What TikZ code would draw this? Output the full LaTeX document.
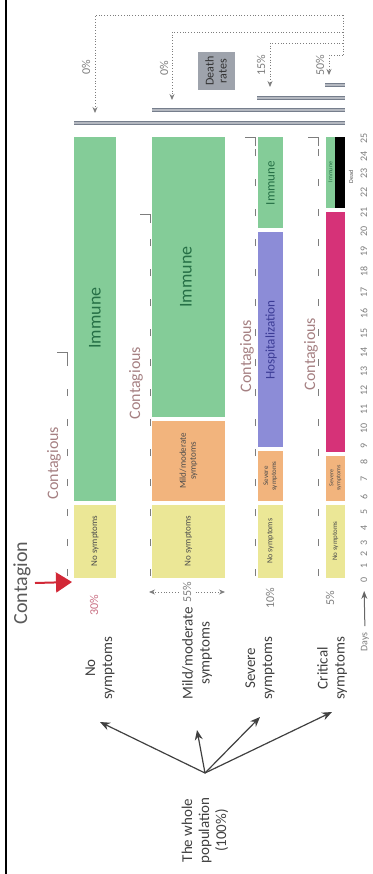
\documentclass[tikz,border=0pt]{standalone}
\usepackage{fontspec}
\setmainfont{Carlito}
\usetikzlibrary{arrows.meta}
\definecolor{noyellow}{RGB}{235,231,150}
\definecolor{immgreen}{RGB}{132,204,152}
\definecolor{mildorange}{RGB}{242,180,125}
\definecolor{hospblue}{RGB}{140,140,215}
\definecolor{icupink}{RGB}{214,50,120}
\definecolor{rategrey}{RGB}{118,126,140}
\definecolor{boxgrey}{RGB}{158,163,172}
\definecolor{softgrey}{RGB}{125,125,125}
\definecolor{contagrose}{RGB}{165,128,130}
\definecolor{immtext}{RGB}{38,112,70}
\definecolor{hosptext}{RGB}{60,60,150}
\definecolor{pinkpct}{RGB}{200,110,130}
\definecolor{arrowred}{RGB}{210,40,55}
\begin{document}
\begin{tikzpicture}[x=0.5pt,y=-0.5pt,
  up/.style={rotate=90,inner sep=0pt,align=center},
  tiny/.style={up,font=\fontsize{4.5}{5}\selectfont,text=black!70},
  grouplbl/.style={up,font=\fontsize{7.5}{8.5}\selectfont,text=black!75},
  contag/.style={up,font=\fontsize{8}{9}\selectfont,text=contagrose},
  immlbl/.style={up,font=\fontsize{9}{10}\selectfont,text=immtext},
  pct/.style={up,font=\fontsize{6}{7}\selectfont,text=softgrey},
  daynum/.style={up,font=\fontsize{5}{6}\selectfont,text=softgrey},
  contagline/.style={softgrey,line width=0.5pt,dash pattern=on 3.5pt off 11.5pt},
  rateline/.style={softgrey,line width=0.4pt,densely dotted,-{Stealth[length=3pt,width=2.5pt]}},
  ratebar/.style={draw=rategrey,line width=0.7pt,double=rategrey!55,double distance=1pt},
  poparrow/.style={black!75,line width=0.6pt,-{Stealth[length=5pt,width=4pt]}}]
\useasboundingbox (0,0) rectangle (373,874);
\draw[line width=0.9pt] (6,0) -- (6,874);

\fill[noyellow] (74,505) rectangle (116,578);
\fill[immgreen] (74,137) rectangle (116,501);
\node[tiny] (nosym1) at (95,541) {No symptoms};
\node[immlbl] (imm1) at (95,318) {Immune};

\fill[noyellow] (152,505) rectangle (225,578);
\fill[mildorange] (152,421) rectangle (225,501);
\fill[immgreen] (152,137) rectangle (225,417);
\node[tiny] (nosym2) at (188.5,541) {No symptoms};
\node[tiny] (mild2) at (188.5,461) {Mild/moderate\\symptoms};
\node[immlbl] (imm2) at (186,277) {Immune};

\fill[noyellow] (258,505) rectangle (283,578);
\fill[mildorange] (258,451) rectangle (283,501);
\fill[hospblue] (258,232) rectangle (283,447);
\fill[immgreen] (258,137) rectangle (283,228);
\node[tiny,font=\fontsize{4}{4.5}\selectfont] (nosym3) at (270.5,541) {No symptoms};
\node[tiny,font=\fontsize{3.5}{4}\selectfont] (sev3) at (270.5,476) {Severe\\symptoms};
\node[up,font=\fontsize{6.6}{7}\selectfont,text=hosptext] (hosp3) at (271,340) {Hospitalization};
\node[immlbl,font=\fontsize{6.5}{7}\selectfont] (imm3) at (270.5,183) {Immune};

\fill[noyellow] (326,505) rectangle (345,578);
\fill[mildorange] (326,456) rectangle (345,501);
\fill[icupink] (326,212) rectangle (345,452);
\fill[immgreen] (326,137) rectangle (335,208);
\fill[black] (335,137) rectangle (345,208);
\node[tiny,font=\fontsize{3.5}{4}\selectfont] (nosym4) at (335.5,541) {No symptoms};
\node[tiny,font=\fontsize{3}{3.5}\selectfont] (sev4) at (335.5,478) {Severe\\symptoms};
\node[immlbl,font=\fontsize{3}{3.5}\selectfont] (imm4) at (330.5,172) {Immune};
\node[tiny,font=\fontsize{3}{3.5}\selectfont] (dead4) at (351,177) {Dead};

\node[contag] (cont1) at (54,463) {Contagious};
\node[contag] (cont2) at (136,383) {Contagious};
\node[contag] (cont3) at (247,356) {Contagious};
\node[contag] (cont4) at (311,354) {Contagious};
\foreach \cx/\cy in {67/352,150/214,255/137,318/137}{
  \draw[contagline] (\cx,576) -- (\cx,\cy);
  \draw[softgrey,line width=0.5pt] (\cx,\cy+9) -- (\cx,\cy) -- (\cx-10,\cy);
}

\node[up,font=\fontsize{10}{12}\selectfont,text=black!65] (contagion) at (22,583) {Contagion};
\coordinate (infect) at (72,582);
\draw[arrowred,line width=1pt,-{Triangle[length=8pt,width=10pt]}] ([xshift=2pt]contagion.south) -- (infect);

\node[pct,text=pinkpct] (p1) at (94,605) {30\%};
\node[pct] (p2) at (187,592) {55\%};
\node[pct] (p3) at (270,598) {10\%};
\node[pct] (p4) at (330,598) {5\%};
\coordinate (w2a) at (149,592);
\coordinate (w2b) at (225,592);
\draw[softgrey,line width=0.4pt,densely dotted,-{Stealth[length=3pt,width=2.5pt]}] ([xshift=-2pt]p2.north) -- (w2a);
\draw[softgrey,line width=0.4pt,densely dotted,-{Stealth[length=3pt,width=2.5pt]}] ([xshift=2pt]p2.south) -- (w2b);

\draw[ratebar] (74,123) -- (345,123);
\draw[ratebar] (152,110) -- (345,110);
\draw[ratebar] (257,98) -- (345,98);
\draw[ratebar] (325,85) -- (345,85);
\node[up,fill=boxgrey,minimum width=19pt,minimum height=18.5pt,font=\fontsize{6}{6.5}\selectfont,text=black!80] (death) at (216,71) {Death\\rates};
\node[pct] (rate1) at (86,67) {0\%};
\node[pct] (rate2) at (164,68) {0\%};
\node[pct] (rate3) at (261,65) {15\%};
\node[pct] (rate4) at (320,65) {50\%};
\draw[softgrey,line width=0.4pt,densely dotted] (343,15) -- (343,55);
\foreach \i/\rx/\ry/\tip in {1/95/15/113,2/172/32/100,3/270/43/87,4/329/55/75}{
  \coordinate (r\i) at (\rx,\tip);
  \draw[rateline] (343,\ry) -- (\rx,\ry) -- (r\i);
}

\foreach \d/\p in {0/580,1/566,2/554,3/543,4/528,5/512,6/497,7/479,8/462,9/446,10/428,11/409,12/390,13/371,14/352,15/333,16/313,17/292,18/271,19/251,20/231,21/212,22/192,23/173,24/156,25/138}
  \node[daynum] (day\d) at (364,\p) {\d};
\node[daynum] (days) at (365,642) {Days};
\draw[black!60,line width=0.5pt,-{Stealth[length=4pt,width=3pt]},shorten <=3pt,shorten >=4pt] (days.east) -- (day0.west);

\coordinate (hub) at (205,773);
\node[grouplbl,anchor=east,inner xsep=12pt] (pop) at (hub) {The whole\\population\\(100\%)};
\node[grouplbl,anchor=west,inner xsep=11pt] (nosym) at (100,722) {No\\symptoms};
\node[grouplbl,anchor=west,inner xsep=15pt] (mildsym) at (197,730) {Mild/moderate\\symptoms};
\node[grouplbl,anchor=west,inner xsep=8.5pt] (sevsym) at (260,717) {Severe\\symptoms};
\node[grouplbl,anchor=west,inner xsep=6pt] (critsym) at (332,712) {Critical\\symptoms};
\foreach \g in {nosym,mildsym,sevsym,critsym}
  \draw[poparrow] (pop.east) -- (\g.west);
\end{tikzpicture}
\end{document}
